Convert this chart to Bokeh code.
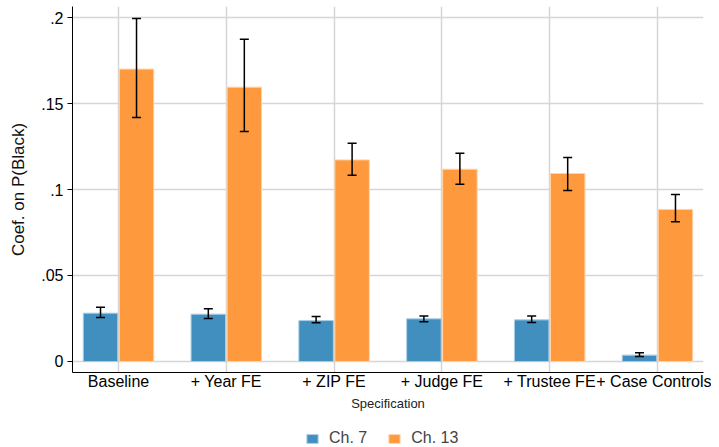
from bokeh.plotting import figure
from bokeh.layouts import column
from bokeh.models import ColumnDataSource, FixedTicker, Range1d, Whisker, TeeHead, Legend, LegendItem
from bokeh.transform import dodge
from bokeh.embed import file_html
from bokeh.resources import INLINE

specs = ["Baseline", "+ Year FE", "+ ZIP FE", "+ Judge FE", "+ Trustee FE", "+ Case Controls"]
ch7 = [0.0281, 0.0275, 0.0238, 0.0248, 0.0242, 0.0037]
ch7_lo = [0.0256, 0.0250, 0.0225, 0.0231, 0.0227, 0.0029]
ch7_hi = [0.0316, 0.0306, 0.0262, 0.0264, 0.0264, 0.0051]
ch13 = [0.1700, 0.1595, 0.1172, 0.1118, 0.1093, 0.0884]
ch13_lo = [0.1419, 0.1337, 0.1083, 0.1031, 0.0994, 0.0812]
ch13_hi = [0.1994, 0.1874, 0.1269, 0.1211, 0.1186, 0.0971]
yticks = [0, 0.05, 0.1, 0.15, 0.2]
ytick_labels = ["0", ".05", ".1", ".15", ".2"]

xs = list(range(1, len(specs) + 1))
src = ColumnDataSource(dict(x=xs, ch7=ch7, ch7_lo=ch7_lo, ch7_hi=ch7_hi,
                            ch13=ch13, ch13_lo=ch13_lo, ch13_hi=ch13_hi))

BLUE = "#418FBF"
ORANGE = "#FE9A3D"
BLUE_EDGE = "#a8cde6"
ORANGE_EDGE = "#ffd3a8"
FONT = "Liberation Sans"
XR = (0.573, 6.427)

p = figure(width=711, height=422, output_backend="svg", toolbar_location=None,
           x_range=Range1d(*XR), y_range=Range1d(-0.0064, 0.2064),
           min_border_top=6, min_border_left=72, min_border_right=8, min_border_bottom=50)
p.outline_line_color = None

OFF = 0.167
W = 0.32
r7 = p.vbar(x=dodge("x", -OFF), top="ch7", bottom=0, width=W, source=src,
            fill_color=BLUE, line_color=BLUE_EDGE, line_width=1)
r13 = p.vbar(x=dodge("x", OFF), top="ch13", bottom=0, width=W, source=src,
             fill_color=ORANGE, line_color=ORANGE_EDGE, line_width=1)

for base, lo, hi in [(dodge("x", -OFF), "ch7_lo", "ch7_hi"), (dodge("x", OFF), "ch13_lo", "ch13_hi")]:
    w = Whisker(source=src, base=base, lower=lo, upper=hi, line_color="black", line_width=1.5,
                level="annotation",
                upper_head=TeeHead(size=9, line_color="black", line_width=1.5),
                lower_head=TeeHead(size=9, line_color="black", line_width=1.5))
    p.add_layout(w)

# axes
p.xaxis.ticker = FixedTicker(ticks=xs)
p.xaxis.major_label_overrides = {x: s for x, s in zip(xs, specs)}
p.xaxis.major_label_text_font = FONT
p.xaxis.major_label_text_font_size = "16px"
p.xaxis.major_label_text_color = "black"
p.xaxis.major_tick_out = 0
p.xaxis.major_tick_in = 0
p.xaxis.minor_tick_line_color = None
p.xaxis.axis_line_color = "black"
p.xaxis.major_label_standoff = 0
p.xaxis.axis_label = "Specification"
p.xaxis.axis_label_text_font = FONT
p.xaxis.axis_label_text_font_size = "13px"
p.xaxis.axis_label_text_font_style = "normal"
p.xaxis.axis_label_text_color = "#222222"
p.xaxis.axis_label_standoff = 3

p.yaxis.ticker = FixedTicker(ticks=yticks)
p.yaxis.major_label_overrides = {t: s for t, s in zip(yticks, ytick_labels)}
p.yaxis.major_label_orientation = "horizontal"
p.yaxis.major_label_text_font = FONT
p.yaxis.major_label_text_font_size = "16px"
p.yaxis.major_label_text_color = "black"
p.yaxis.major_tick_out = 5
p.yaxis.major_tick_in = 0
p.yaxis.major_label_standoff = 4
p.yaxis.minor_tick_line_color = None
p.yaxis.axis_line_color = "black"
p.yaxis.axis_label = "Coef. on P(Black)"
p.yaxis.axis_label_text_font = FONT
p.yaxis.axis_label_text_font_size = "17px"
p.yaxis.axis_label_text_font_style = "normal"
p.yaxis.axis_label_text_color = "#111111"
p.yaxis.axis_label_standoff = 10

p.grid.grid_line_color = "#d6d6d6"
p.grid.grid_line_width = 1.5

# legend strip below the chart (its glyphs lie outside its visible range)
q = figure(width=711, height=25, output_backend="svg", toolbar_location=None,
           x_range=Range1d(*XR), y_range=Range1d(1, 2),
           min_border_top=0, min_border_bottom=0, min_border_left=72, min_border_right=8)
q.axis.visible = False
q.grid.visible = False
q.outline_line_color = None
l7 = q.vbar(x="x", top="ch7", bottom=0, width=W, source=src,
            fill_color=BLUE, line_color=BLUE_EDGE, line_width=1)
l13 = q.vbar(x="x", top="ch13", bottom=0, width=W, source=src,
             fill_color=ORANGE, line_color=ORANGE_EDGE, line_width=1)
legend = Legend(items=[LegendItem(label="Ch. 7", renderers=[l7]),
                       LegendItem(label="Ch. 13", renderers=[l13])],
                orientation="horizontal", location=(233, 0),
                label_text_font=FONT, label_text_font_size="16px", label_height=16,
                glyph_width=14, glyph_height=11, spacing=20, label_standoff=10,
                border_line_color=None, background_fill_alpha=0, margin=0, padding=0)
q.add_layout(legend)

layout = column(p, q, spacing=0)
open("out.html", "w").write(file_html(layout, INLINE))
